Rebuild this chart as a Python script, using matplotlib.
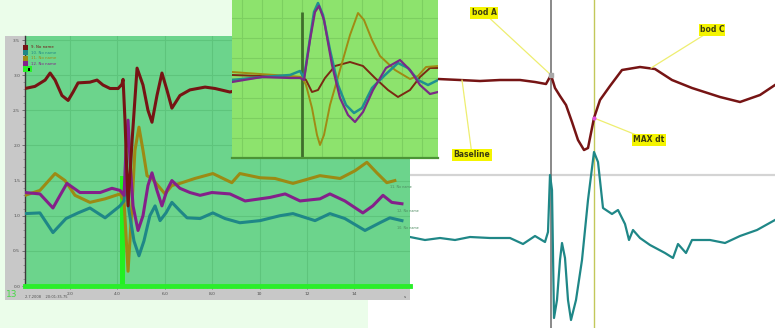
import matplotlib
matplotlib.use("Agg")
import matplotlib.pyplot as plt
from matplotlib.patches import Rectangle

W, H = 775, 328

# ---- main recorder panel (seconds, volts) ----
MAIN_YTICKS = [0.0, 0.5, 1.0, 1.5, 2.0, 2.5, 3.0, 3.5]
MAIN_XTICKS = [2, 4, 6, 8, 10, 12, 14]
MAIN_XTICK_LABELS = ["2.0", "4.0", "6.0", "8.0", "10", "12", "14"]

red_t = [0.10, 0.52, 0.95, 1.16, 1.37, 1.66, 1.92, 2.13, 2.34, 2.84, 3.14, 3.39, 3.69, 4.03, 4.19,
         4.24, 4.32, 4.45, 4.62, 4.83, 5.08, 5.29, 5.46, 5.67, 5.88, 6.09, 6.30, 6.64, 7.06, 7.70,
         8.12, 8.75, 9.39, 10.02, 10.86, 11.71, 12.55, 13.40, 14.24, 15.08, 15.71, 16.14]
red_v = [2.81, 2.84, 2.93, 3.03, 2.93, 2.71, 2.64, 2.76, 2.89, 2.90, 2.93, 2.86, 2.81, 2.81, 2.87,
         2.94, 2.36, 1.14, 2.07, 3.10, 2.86, 2.50, 2.33, 2.71, 3.03, 2.79, 2.53, 2.71, 2.79, 2.83,
         2.81, 2.76, 2.81, 2.79, 2.86, 2.81, 2.83, 2.76, 2.81, 2.79, 2.71, 2.74]

olive_t = [0.10, 0.73, 1.37, 1.79, 2.21, 2.84, 3.48, 4.11, 4.28, 4.45, 4.58, 4.74, 4.91, 5.08, 5.25,
           5.46, 5.71, 6.01, 6.30, 6.64, 7.27, 8.03, 8.83, 9.17, 10.02, 10.65, 11.41, 12.55, 13.40,
           14.03, 14.53, 14.95, 15.37, 15.71]
olive_v = [1.29, 1.36, 1.60, 1.50, 1.29, 1.19, 1.24, 1.31, 1.21, 0.21, 0.93, 1.93, 2.26, 1.93, 1.57,
           1.53, 1.43, 1.31, 1.43, 1.46, 1.53, 1.60, 1.47, 1.60, 1.54, 1.53, 1.46, 1.57, 1.53,
           1.64, 1.76, 1.61, 1.47, 1.50]

purple_t = [0.10, 0.73, 1.28, 1.58, 1.87, 2.42, 3.27, 3.77, 4.11, 4.28, 4.36, 4.45, 4.53, 4.66, 4.87,
            5.08, 5.29, 5.46, 5.67, 5.88, 6.09, 6.30, 6.64, 7.06, 7.49, 7.99, 8.75, 9.39, 10.44,
            11.08, 11.71, 12.55, 12.97, 13.60, 14.36, 14.78, 15.21, 15.58, 16.01]
purple_v = [1.33, 1.31, 1.11, 1.29, 1.46, 1.33, 1.33, 1.39, 1.36, 1.29, 1.93, 2.36, 1.79, 1.14, 0.79,
            1.00, 1.43, 1.61, 1.36, 1.14, 1.36, 1.50, 1.39, 1.33, 1.29, 1.33, 1.31, 1.21, 1.26,
            1.31, 1.21, 1.24, 1.31, 1.21, 1.04, 1.14, 1.29, 1.19, 1.17]

teal_t = [0.10, 0.73, 1.28, 1.83, 2.34, 2.84, 3.48, 4.11, 4.28, 4.36, 4.49, 4.70, 4.91, 5.12, 5.37,
          5.59, 5.80, 6.05, 6.30, 6.64, 6.94, 7.49, 8.03, 8.54, 9.17, 10.02, 10.86, 11.41, 12.34,
          12.97, 13.60, 14.45, 15.08, 15.50, 16.01]
teal_v = [1.03, 1.04, 0.76, 0.96, 1.04, 1.11, 0.97, 1.14, 1.21, 1.57, 1.07, 0.64, 0.43, 0.64, 1.00,
          1.14, 0.93, 1.04, 1.19, 1.07, 0.97, 0.96, 1.04, 0.96, 0.90, 0.93, 1.00, 1.03, 0.93,
          1.03, 0.96, 0.79, 0.90, 0.97, 0.93]

# stimulus marker: start, end, height
stim_start, stim_end, stim_height = 4.11, 4.32, 1.57

channel_names = ["9. No name", "10. No name", "11. No name", "12. No name"]

# ---- zoomed inset (ms relative to stimulus, arbitrary units) ----
in_olive_t = [-70, -42, -12, 0, 4, 10, 15, 18, 22, 28, 38, 48, 56, 62, 70, 78, 93, 108, 116, 124, 136]
in_olive_v = [0.30, 0.20, 0.10, 0.05, -0.35, -1.50, -2.85, -3.35, -2.85, -1.35, 0.40, 2.15, 3.25,
              2.90, 1.90, 1.10, 0.40, -0.05, 0.10, 0.55, 0.60]
in_red_t = [-70, -42, -12, 0, 4, 10, 16, 23, 33, 48, 61, 73, 86, 96, 108, 118, 128, 136]
in_red_v = [0.15, 0.10, 0.05, 0.05, -0.10, -0.70, -0.60, 0.00, 0.60, 0.80, 0.60, 0.00, -0.60, -0.95,
            -0.60, 0.05, 0.50, 0.50]
in_teal_t = [-70, -40, -12, -2, 2, 7, 12, 16, 21, 28, 36, 44, 52, 60, 70, 83, 96, 106, 116, 126, 136]
in_teal_v = [-0.10, 0.05, 0.15, 0.35, 0.00, 1.65, 3.30, 3.75, 3.15, 1.40, -0.35, -1.35, -1.75, -1.50,
             -0.50, 0.15, 0.75, 0.50, -0.10, -0.35, -0.10]
in_purple_t = [-70, -40, -12, -2, 2, 8, 13, 17, 22, 30, 38, 46, 53, 61, 71, 84, 98, 108, 118, 128, 136]
in_purple_v = [-0.20, 0.05, 0.00, 0.00, -0.10, 1.90, 3.30, 3.60, 2.90, 0.65, -1.00, -1.85, -2.20,
               -1.70, -0.60, 0.50, 0.90, 0.40, -0.35, -0.80, -0.70]

# ---- analysis panel (ms relative to point A) ----
an_red_t = [-113, -91, -71, -51, -31, -16, -5, 0, 4, 9, 15, 21, 27, 33, 37, 43, 49, 59, 71, 89, 104,
            121, 141, 169, 189, 209, 224]
an_red_v = [0.05, 0.00, -0.05, 0.00, 0.00, -0.10, -0.20, 0.25, -0.40, -0.80, -1.25, -2.10, -3.00,
            -3.50, -3.40, -1.90, -1.00, -0.30, 0.50, 0.65, 0.55, 0.00, -0.40, -0.85, -1.10, -0.75, -0.25]
an_teal_t = [-141, -126, -111, -96, -81, -61, -41, -28, -16, -6, -3, -1, 1, 3, 6, 9, 11, 14, 17, 20,
             25, 31, 37, 43, 47, 52, 61, 67, 74, 78, 82, 89, 99, 114, 122, 127, 135, 141, 159, 174,
             189, 206, 224]
an_teal_v = [0.05, -0.10, 0.00, -0.10, 0.05, 0.00, 0.00, -0.30, 0.10, -0.20, 0.30, 3.15, 2.40, -4.00,
             -3.10, -1.10, -0.25, -1.00, -3.10, -4.10, -3.10, -1.10, 1.90, 4.30, 3.80, 1.50, 1.20,
             1.40, 0.70, -0.10, 0.40, 0.00, -0.35, -0.75, -1.00, -0.30, -0.75, -0.10, -0.10, -0.25,
             0.10, 0.40, 0.90]
red_offset, teal_offset, split_level = 12.4, 4.5, 7.65
cursor_a, cursor_maxdt = 0, 43

# label, point x, point y (on red trace), label x, label y
annotations = [
    ("bod A", 0, 0.25, -67, 3.35),
    ("bod C", 100, 0.6, 161, 2.5),
    ("Baseline", -89, 0.0, -79, -3.75),
    ("MAX dt", 43, -1.9, 98, -3.0),
]

RED, OLIVE, PURPLE, TEAL = "#761414", "#9c8a14", "#84208a", "#1f8787"


def px_box(x0, y0, x1, y1):
    return [x0 / W, 1 - y1 / H, (x1 - x0) / W, (y1 - y0) / H]


fig = plt.figure(figsize=(W / 100, H / 100), dpi=100, facecolor="white")
fig.patches.append(Rectangle((0, 0), 368 / W, 1, transform=fig.transFigure,
                             facecolor="#ebfdea", edgecolor="none", zorder=0))

# analysis panel (white, right)
ax_r = fig.add_axes(px_box(410, 0, 775, 328), zorder=1)
ax_r.set_facecolor("white")
for s in ax_r.spines.values():
    s.set_visible(False)
ax_r.set_xticks([])
ax_r.set_yticks([])
ax_r.set_xlim(-141, 224)
ax_r.set_ylim(0, 16.4)
ax_r.axhline(split_level, color="#d4d4d4", lw=1.6)
ax_r.axvline(cursor_a, color="#6a6a6a", lw=1.1)
ax_r.axvline(cursor_maxdt, color="#c2c85a", lw=1.0)
ax_r.plot(an_red_t, [v + red_offset for v in an_red_v], color=RED, lw=1.8)
ax_r.plot(an_teal_t, [v + teal_offset for v in an_teal_v], color=TEAL, lw=1.6)
ax_r.plot(cursor_a, an_red_v[an_red_t.index(cursor_a)] + red_offset, marker="s", ms=3,
          color="#a8a8a8", zorder=5)
ax_r.plot(cursor_maxdt, an_red_v[an_red_t.index(cursor_maxdt)] + red_offset, marker="o", ms=2,
          color="#e050e0", zorder=5)
for label, px_, py_, tx, ty in annotations:
    ax_r.annotate(label, xy=(px_, py_ + red_offset), xytext=(tx, ty + red_offset),
                  fontsize=5.5, fontweight="bold", color="#3c3c10", ha="center", va="center",
                  bbox=dict(boxstyle="square,pad=0.15", fc="#f4f400", ec="none"),
                  arrowprops=dict(arrowstyle="-", color="#eeee70", lw=0.9, shrinkA=0, shrinkB=0))

# main recorder panel
ax_gray = fig.add_axes(px_box(5, 36, 410, 300), zorder=2)
ax_gray.set_facecolor("#c8c8c8")
ax_gray.set_xticks([])
ax_gray.set_yticks([])
for s in ax_gray.spines.values():
    s.set_visible(False)
ax_gray.text(0.003, 0.004, "13", transform=ax_gray.transAxes, fontsize=6.5, color="#46d846",
             va="bottom")
ax_gray.text(0.05, 0.004, "2.7.2008    20:01:35.75", transform=ax_gray.transAxes, fontsize=2.6,
             color="#505050", va="bottom")
ax_gray.text(0.985, 0.004, "s", transform=ax_gray.transAxes, fontsize=3, color="#505050",
             va="bottom")

ax = fig.add_axes(px_box(25, 36, 410, 286), zorder=3)
ax.set_facecolor("#6cd48c")
ax.set_xlim(0.1, 16.35)
ax.set_ylim(0, 3.557)
ax.set_yticks(MAIN_YTICKS)
ax.set_yticklabels([f"{v:.1f}" for v in MAIN_YTICKS])
ax.set_yticks([i / 10 for i in range(36)], minor=True)
ax.set_xticks(MAIN_XTICKS)
ax.set_xticklabels(MAIN_XTICK_LABELS)
ax.set_xticks([i / 5 for i in range(1, 82)], minor=True)
ax.tick_params(axis="both", which="major", labelsize=3.2, labelcolor="#505050", color="#505050",
               length=2.5, width=0.5, pad=1)
ax.tick_params(axis="x", which="major", pad=1.5)
ax.tick_params(axis="both", which="minor", color="#707070", length=1.5, width=0.4)
ax.grid(True, which="major", color="#5ec47c", lw=0.8)
for name, s in ax.spines.items():
    s.set_visible(name == "left")
ax.spines["left"].set_color("#3a3a3a")
ax.spines["left"].set_linewidth(1.0)
ax.axhline(0, color="#2aee2a", lw=3.5, clip_on=False, zorder=4)
ax.fill_between([stim_start, stim_end], 0, stim_height, color="#22f022", lw=0, zorder=2)
lw_main = 2.2
ax.plot(olive_t, olive_v, color=OLIVE, lw=lw_main, zorder=3)
ax.plot(teal_t, teal_v, color=TEAL, lw=lw_main, zorder=3)
ax.plot(purple_t, purple_v, color=PURPLE, lw=lw_main, zorder=3)
ax.plot(red_t, red_v, color=RED, lw=lw_main, zorder=3)

# channel list at top-left
legend_colors = [RED, TEAL, OLIVE, PURPLE]
for i, (name, c) in enumerate(zip(channel_names, legend_colors)):
    y = 0.955 - i * 0.022
    ax.add_patch(Rectangle((-0.005, y - 0.009), 0.012, 0.019, transform=ax.transAxes,
                           facecolor=c, edgecolor="none", clip_on=False, zorder=5))
    ax.text(0.015, y, name, transform=ax.transAxes, fontsize=2.8, color=c, va="center")
ax.add_patch(Rectangle((-0.005, 0.857), 0.022, 0.022, transform=ax.transAxes,
                       facecolor="#2af02a", edgecolor="none", clip_on=False, zorder=5))
ax.add_patch(Rectangle((0.008, 0.862), 0.006, 0.011, transform=ax.transAxes,
                       facecolor="black", edgecolor="none", clip_on=False, zorder=6))

# channel names near trace ends
for t, v, name in [(olive_t[-1], olive_v[-1], channel_names[2]),
                   (purple_t[-1], purple_v[-1], channel_names[3]),
                   (teal_t[-1], teal_v[-1], channel_names[1])]:
    ax.text(t - 0.2, v - 0.07, name, fontsize=2.4, color="#4d8a60", va="top", ha="left")

# zoomed inset
ax_in = fig.add_axes(px_box(232, 0, 438, 158), zorder=4)
ax_in.set_facecolor("#8de36d")
ax_in.set_xlim(-70, 136)
ax_in.set_ylim(-4.0, 3.9)
ax_in.set_xticks(range(-60, 136, 20))
ax_in.set_yticks([-3, -2, -1, 0, 1, 2, 3])
ax_in.tick_params(length=0, labelbottom=False, labelleft=False)
ax_in.grid(True, color="#7ccf60", lw=0.8)
for name, s in ax_in.spines.items():
    s.set_visible(name == "bottom")
ax_in.spines["bottom"].set_color("#4c9436")
ax_in.spines["bottom"].set_linewidth(1.6)
ax_in.vlines(0, -4.0, 3.3, color="#3f6e2c", lw=2)
ax_in.plot(in_red_t, in_red_v, color="#7a2a12", lw=1.4)
ax_in.plot(in_olive_t, in_olive_v, color="#a08a14", lw=1.4)
ax_in.plot(in_teal_t, in_teal_v, color="#1f9090", lw=1.8)
ax_in.plot(in_purple_t, in_purple_v, color="#7a2a86", lw=1.6)

fig.savefig("out.png", dpi=100, facecolor=fig.get_facecolor())
